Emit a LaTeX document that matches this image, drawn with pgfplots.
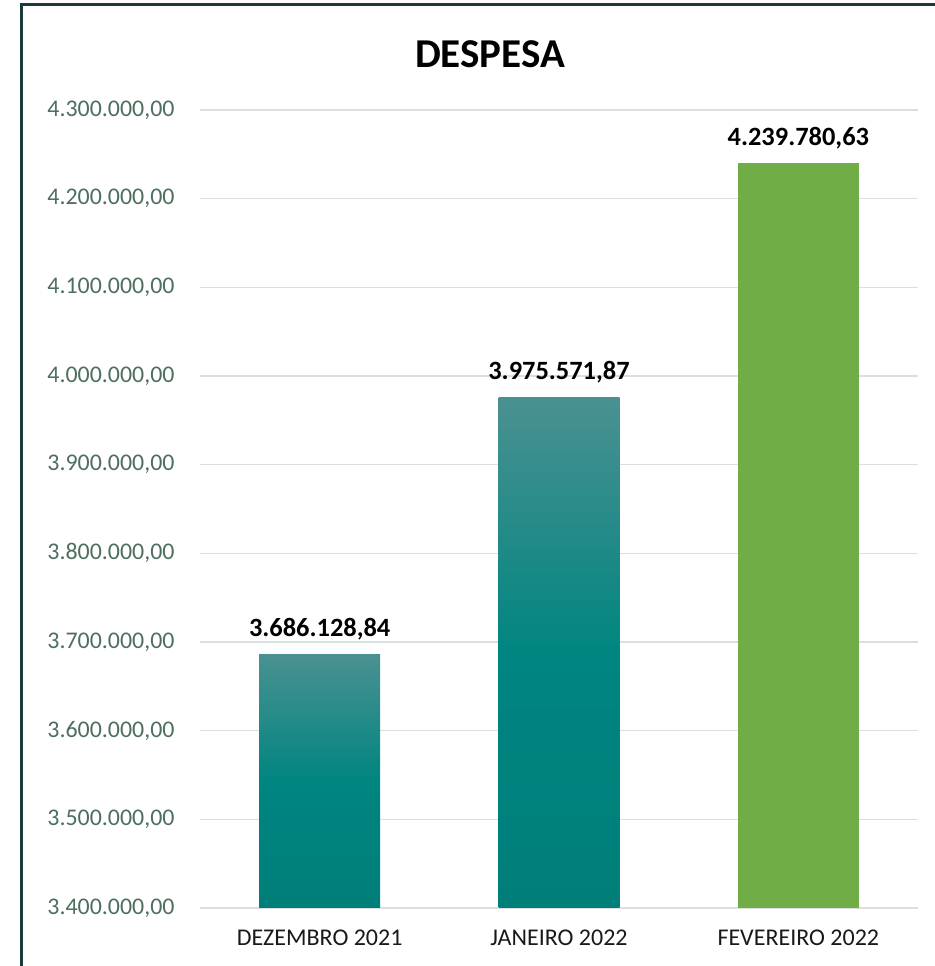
\documentclass[border=0pt]{standalone}
\usepackage{pgfplots}
\pgfplotsset{compat=1.18}
\usepackage{fontspec}
\setmainfont{Carlito}
\definecolor{tickgreen}{RGB}{78,110,94}
\definecolor{gridc}{RGB}{217,224,222}
\definecolor{framec}{RGB}{26,58,60}
\definecolor{tealtop}{RGB}{74,145,145}
\definecolor{tealmid}{RGB}{0,133,128}
\definecolor{tealbot}{RGB}{0,126,122}
\definecolor{barGreen}{RGB}{112,173,71}
\newcommand{\fpushift}[2]{%
  \begingroup
  \pgfkeys{/pgf/fpu=true,/pgf/fpu/output format=fixed}%
  \pgfmathparse{#1#2}%
  \xdef\myshiftresult{\pgfmathresult}%
  \endgroup
  \let\pgfmathresult\myshiftresult}
\begin{document}
\begin{tikzpicture}
\useasboundingbox (0bp,0bp) rectangle (935bp,966bp);
\draw[framec, line width=3bp] (21bp,-2bp) -- (21bp,961bp) -- (940bp,961bp);
\node[font=\fontsize{41bp}{48bp}\selectfont\bfseries, anchor=base, inner sep=0pt] at (490bp,898bp) {DESPESA};
\begin{axis}[
  at={(200bp,58bp)}, anchor=south west,
  scale only axis, width=718bp, height=798bp,
  xmin=-0.5, xmax=2.5, ymin=3400000, ymax=4300000,
  y coord trafo/.code={\fpushift{#1}{-3400000}},
  y coord inv trafo/.code={\fpushift{#1}{+3400000}},
  scaled y ticks=false,
  ytick={3400000,3500000,3600000,3700000,3800000,3900000,4000000,4100000,4200000,4300000},
  yticklabels={{3.400.000,00},{3.500.000,00},{3.600.000,00},{3.700.000,00},{3.800.000,00},{3.900.000,00},{4.000.000,00},{4.100.000,00},{4.200.000,00},{4.300.000,00}},
  xtick={0,1,2},
  xticklabels={DEZEMBRO 2021, JANEIRO 2022, FEVEREIRO 2022},
  axis line style={draw=none},
  major tick length=0pt,
  ymajorgrids, grid style={gridc, line width=1.5bp},
  yticklabel style={font=\fontsize{23.9bp}{28bp}\selectfont, text=tickgreen, anchor=east, xshift=-22bp},
  xticklabel style={font=\fontsize{24bp}{28bp}\selectfont, text={black!90}, yshift=-18bp},
  point meta=explicit symbolic,
  nodes near coords,
  every node near coord/.append style={font=\fontsize{26.4bp}{30bp}\selectfont\bfseries, text=black, inner sep=0pt, text depth=0pt, anchor=south, yshift=18bp},
]
\addplot[ybar, bar width=121bp, bar shift=0pt, draw=none, top color=tealtop, bottom color=tealbot, middle color=tealmid]
  coordinates {(0,3686128.84) [3.686.128,84]};
\addplot[ybar, bar width=121bp, bar shift=0pt, draw=none, top color=tealtop, bottom color=tealbot, middle color=tealmid]
  coordinates {(1,3975571.87) [3.975.571,87]};
\addplot[ybar, bar width=121bp, bar shift=0pt, draw=none, fill=barGreen]
  coordinates {(2,4239780.63) [4.239.780,63]};
\end{axis}
\end{tikzpicture}
\end{document}
